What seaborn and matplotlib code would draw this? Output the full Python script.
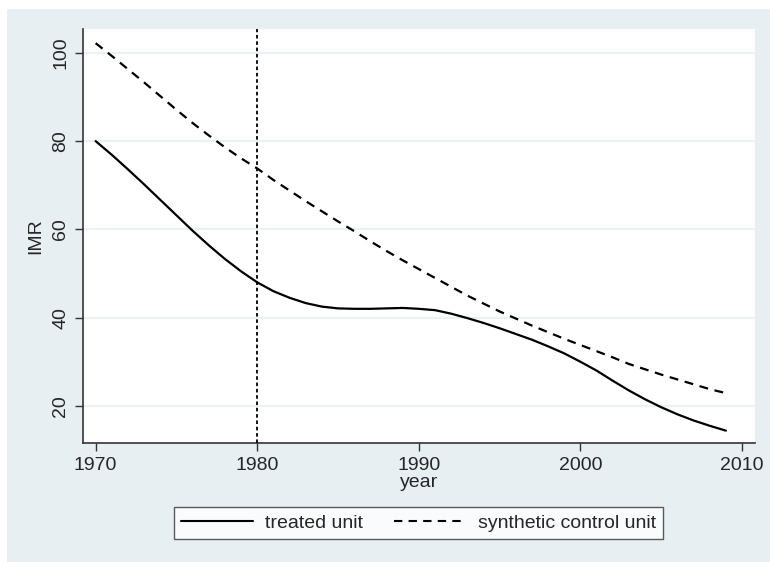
import numpy as np
import pandas as pd
import matplotlib.pyplot as plt
import seaborn as sns

# values
years = list(range(1970, 2010))
treated = [80.0, 76.9, 73.6, 70.2, 66.7, 63.2, 59.7, 56.4, 53.3, 50.5,
           48.0, 46.0, 44.5, 43.3, 42.5, 42.1, 42.0, 42.0, 42.1, 42.2,
           42.0, 41.7, 40.9, 39.9, 38.8, 37.6, 36.3, 35.0, 33.5, 31.9,
           30.0, 28.0, 25.7, 23.5, 21.5, 19.7, 18.1, 16.7, 15.5, 14.4]
synthetic = [102.2, 99.3, 96.3, 93.3, 90.2, 87.1, 84.1, 81.3, 78.6, 76.1,
             73.8, 71.2, 68.8, 66.4, 64.1, 61.8, 59.6, 57.3, 55.1, 53.0,
             51.0, 49.0, 47.0, 45.0, 43.2, 41.4, 39.8, 38.2, 36.7, 35.2,
             33.8, 32.4, 31.0, 29.5, 28.3, 27.1, 26.0, 24.9, 23.8, 22.9]
series_names = ['treated unit', 'synthetic control unit']
x_ticks = [1970, 1980, 1990, 2000, 2010]
y_ticks = [20, 40, 60, 80, 100]
treatment_year = 1980

df = pd.DataFrame({
    'year': years * 2,
    'IMR': treated + synthetic,
    'unit': [series_names[0]] * len(years) + [series_names[1]] * len(years),
})

sns.set_theme(style='white')
plt.rcParams['font.family'] = ['Liberation Sans', 'DejaVu Sans']

bg = '#e8eff2'
fig = plt.figure(figsize=(7.7, 5.62), dpi=100)
fig.patch.set_facecolor('white')
fig.patches.append(plt.Rectangle((7 / 770, 0), 1 - 7 / 770, 1 - 9 / 562,
                                 transform=fig.transFigure, facecolor=bg,
                                 edgecolor='none', zorder=-10))
ax = fig.add_axes([83 / 770, 1 - 443 / 562, (755 - 83) / 770, (443 - 29) / 562])
ax.set_facecolor('white')

for y in y_ticks:
    ax.axhline(y, color='#eaf2f3', lw=1.6, zorder=0)

sns.lineplot(data=df, x='year', y='IMR', hue='unit', style='unit',
             palette=['black', 'black'],
             dashes={series_names[0]: '', series_names[1]: (4, 3)},
             lw=1.6, ax=ax, legend=False)
ax.axvline(treatment_year, color='black', lw=1.3, ls=(0, (2, 1.5)), zorder=3)

ax.set_xlim(1969.22, 2010.8)
ax.set_ylim(11.6, 105.4)
ax.set_xticks(x_ticks)
ax.set_yticks(y_ticks)
ax.set_xticklabels([str(t) for t in x_ticks], fontsize=14)
ax.set_yticklabels([str(t) for t in y_ticks], fontsize=14, rotation=90, va='center')
ax.tick_params(axis='both', length=6, width=1, color='#333333', direction='out',
               bottom=True, left=True, pad=4)
ax.set_xlabel('year', fontsize=14, labelpad=0)
ax.set_ylabel('IMR', fontsize=14, labelpad=6)

for side in ['top', 'right']:
    ax.spines[side].set_visible(False)
for side in ['left', 'bottom']:
    ax.spines[side].set_color('#333333')
    ax.spines[side].set_linewidth(1.2)

handles = [plt.Line2D([], [], color='black', lw=1.5),
           plt.Line2D([], [], color='black', lw=1.5, ls=(0, (4, 3)))]
leg = fig.legend(handles, series_names, loc='center',
                 bbox_to_anchor=(418.5 / 770, 1 - 523 / 562), ncol=2,
                 fontsize=14, frameon=True, fancybox=False, handlelength=3.7,
                 columnspacing=1.6, borderpad=0.35, handletextpad=0.6,
                 borderaxespad=0)
leg.get_frame().set_edgecolor('#333333')
leg.get_frame().set_linewidth(1.0)
leg.get_frame().set_facecolor('white')

fig.savefig('out.png', dpi=100, facecolor=fig.get_facecolor())
